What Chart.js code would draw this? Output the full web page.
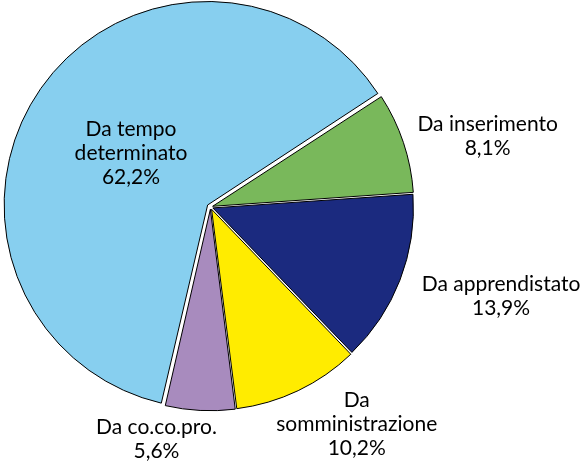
<!DOCTYPE html>
<html lang="it">
<head>
<meta charset="UTF-8">
<title>Assunzioni per tipo di contratto</title>
<script src="https://cdn.jsdelivr.net/npm/chart.js"></script>
<style>
  body { margin: 0; background: #fff; }
  #wrap { width: 588px; height: 464px; }
</style>
</head>
<body>
<div id="wrap"><canvas id="pie" width="588" height="464"></canvas></div>
<script>
// valori (%)
const labels = [['Da tempo', 'determinato'], ['Da inserimento'], ['Da apprendistato'], ['Da', 'somministrazione'], ['Da co.co.pro.']];
const values = [62.2, 8.1, 13.9, 10.2, 5.6];
const colors = ['#87CFEF', '#79B85B', '#1B2A7F', '#FFEC00', '#A88BBE'];
// Chart.js sposta la fetta di circa offset/4 (di piu' per le fette grandi)
const offsets = [14, 9, 10, 10, 9];

// posizione etichette: frazione del raggio e rotazione (gradi) rispetto al centro della fetta
const labelRadius = [0.48, 1.43, 1.52, 1.31, 1.19];
const labelTurn = [-0.9, 4.2, -4, -8.4, 10.2];

const pct = v => v.toFixed(1).replace('.', ',') + '%';

const sliceLabels = {
    id: 'sliceLabels',
    afterDatasetsDraw(chart) {
        const ctx = chart.ctx;
        const meta = chart.getDatasetMeta(0);
        ctx.save();
        ctx.font = '21px Lato';
        ctx.fillStyle = '#000';
        ctx.textAlign = 'center';
        ctx.textBaseline = 'middle';
        meta.data.forEach((arc, i) => {
            const p = arc.getProps(['x', 'y', 'startAngle', 'endAngle', 'outerRadius'], true);
            const mid = (p.startAngle + p.endAngle) / 2 + labelTurn[i] * Math.PI / 180;
            const cx = p.x + Math.cos(mid) * p.outerRadius * labelRadius[i];
            const cy = p.y + Math.sin(mid) * p.outerRadius * labelRadius[i];
            const lines = labels[i].concat(pct(values[i]));
            const lh = 24;
            lines.forEach((t, k) => {
                ctx.fillText(t, cx, cy + (k - (lines.length - 1) / 2) * lh);
            });
        });
        ctx.restore();
    }
};

new Chart(document.getElementById('pie'), {
    type: 'pie',
    data: {
        labels: labels.map(l => l.join(' ')),
        datasets: [{
            data: values,
            backgroundColor: colors,
            borderColor: '#000',
            borderWidth: 1,
            offset: offsets
        }]
    },
    options: {
        responsive: false,
        animation: false,
        rotation: -167,
        radius: 200,
        layout: { padding: { left: 1, top: 0, right: 168, bottom: 50 } },
        plugins: {
            legend: { display: false },
            tooltip: { enabled: false }
        }
    },
    plugins: [sliceLabels]
});
</script>
</body>
</html>
